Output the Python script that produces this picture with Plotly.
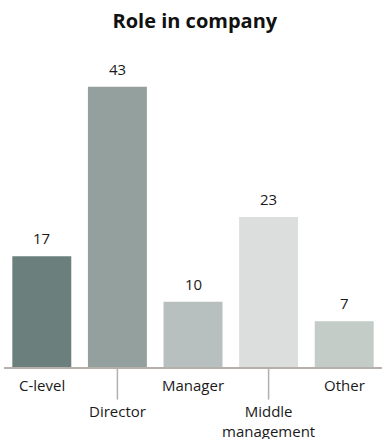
import plotly.graph_objects as go

categories = ["C-level", "Director", "Manager", "Middle management", "Other"]
values = [17, 43, 10, 23, 7]
tick_labels = ["C-level", "Director", "Manager", "Middle<br>management", "Other"]
colors = ["#6b807c", "#94a09d", "#b8bfbf", "#dcdedd", "#c3ccc7"]
low_label = [False, True, False, True, False]

FONT = "Open Sans"

fig = go.Figure(go.Bar(
    x=categories, y=values, marker=dict(color=colors, line=dict(width=0)),
    hoverinfo="skip",
))

annotations = []
shapes = []
for cat, v, lab, low in zip(categories, values, tick_labels, low_label):
    annotations.append(dict(x=cat, y=v, xref="x", yref="y", text=str(v), showarrow=False,
                            yanchor="middle", yshift=18, font=dict(family=FONT, size=15, color="#1a1a1a")))
    annotations.append(dict(x=cat, y=0, xref="x", yref="y", text=lab, showarrow=False,
                            yanchor="top", yshift=(-33 if low else -7), borderpad=0,
                            font=dict(family=FONT, size=15, color="#1a1a1a")))
    if low:
        shapes.append(dict(type="line", xref="x", yref="paper", x0=cat, x1=cat,
                           y0=0, y1=-0.1, line=dict(color="#b5b0ab", width=1.5)))

fig.update_layout(
    width=382, height=439,
    margin=dict(l=4, r=0, t=41, b=72),
    paper_bgcolor="white", plot_bgcolor="white",
    title=dict(text="<b>Role in company</b>", x=0.51, xanchor="center", y=0.953, yanchor="middle",
               font=dict(family=FONT, size=20, color="#111")),
    bargap=0.22,
    showlegend=False,
    xaxis=dict(showticklabels=False, showgrid=False, zeroline=False, showline=True,
               linecolor="#b5b0ab", linewidth=1.5, ticks="", fixedrange=True),
    yaxis=dict(range=[0, 50], visible=False, fixedrange=True),
    annotations=annotations, shapes=shapes,
    font=dict(family=FONT),
)

fig.write_html("out.html", config={"displayModeBar": False},
               post_script="document.body.style.margin='0';")
